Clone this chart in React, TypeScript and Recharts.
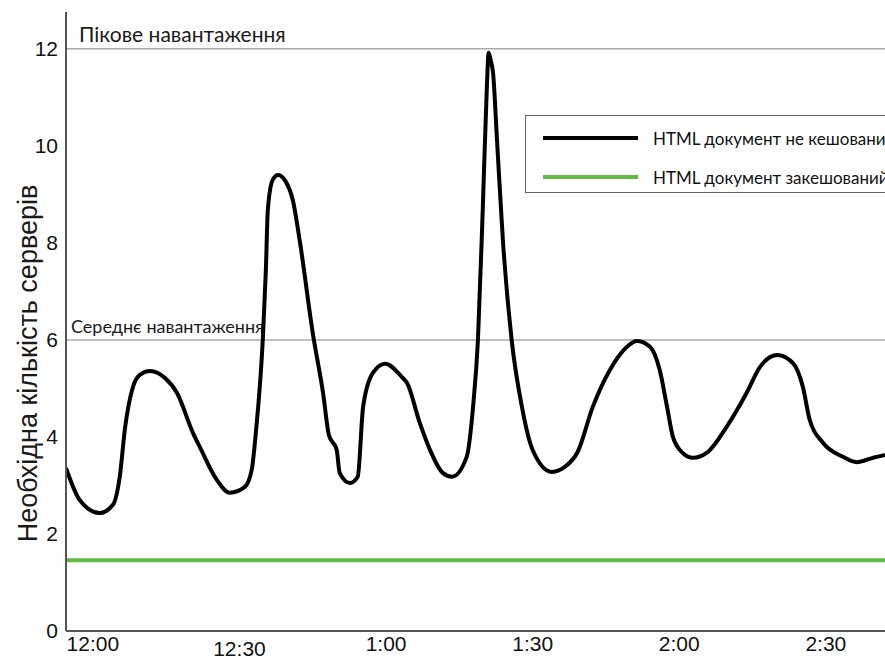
import React from 'react';
import { LineChart, Line, XAxis, YAxis, ReferenceLine, Legend } from 'recharts';

// minutes after 12:00 and servers needed (HTML not cached)
const minutes = [
  -5.5, -2.7, 1.4, 4.1, 5.5, 6.6, 8.2, 9.6, 11.7, 14.7, 17.2, 20.5, 21.9, 25.4, 28.0, 31.1, 32.5,
  33.4, 34.8, 35.4, 35.8, 36.8, 37.9, 39.5, 40.9, 42.4, 45.0, 47.1, 48.3, 49.9, 50.5, 52.6, 54.2,
  55.3, 57.3, 59.8, 63.2, 64.3, 66.9, 69.0, 71.6, 73.5, 76.5, 77.8, 78.8, 79.8, 80.6, 81.0, 81.4,
  81.9, 82.7, 83.9, 85.7, 87.8, 90.0, 93.9, 96.8, 99.2, 102.3, 105.8, 109.3, 111.3, 114.0, 116.0,
  117.5, 118.7, 120.7, 122.8, 125.6, 129.7, 133.8, 136.5, 140.0, 143.2, 145.3, 146.7, 149.4, 153.5,
  156.3, 159.6, 162.1,
];
const uncached = [
  3.36, 2.7, 2.43, 2.6, 3.18, 4.2, 5.03, 5.28, 5.36, 5.22, 4.91, 4.08, 3.79, 3.11, 2.85, 2.97, 3.32,
  4.14, 6.06, 7.44, 8.68, 9.3, 9.4, 9.26, 8.89, 8.0, 6.14, 4.91, 4.04, 3.73, 3.26, 3.05, 3.18,
  4.62, 5.32, 5.51, 5.24, 5.11, 4.29, 3.73, 3.26, 3.18, 3.59, 4.62, 6.0, 8.74, 11.15, 11.92, 11.77,
  11.5, 10.12, 8.06, 6.0, 4.62, 3.73, 3.28, 3.4, 3.69, 4.62, 5.38, 5.86, 5.98, 5.86, 5.38,
  4.62, 4.0, 3.67, 3.57, 3.67, 4.21, 4.91, 5.44, 5.69, 5.53, 5.03, 4.35, 3.88, 3.59,
  3.48, 3.57, 3.63,
];

// HTML cached
const cachedMinutes = [-5.5, 162.1];
const cached = [1.46, 1.46];

const xTicks = [0, 30, 60, 90, 120, 150];
const xLabels = ['12:00', '12:30', '1:00', '1:30', '2:00', '2:30'];
const yTicks = [0, 2, 4, 6, 8, 10, 12];
const seriesNames = ['HTML документ не кешований', 'HTML документ закешований'];

const uncachedData = minutes.map((m, i) => ({ m, v: uncached[i] }));
const cachedData = cachedMinutes.map((m, i) => ({ m, v: cached[i] }));

const axisFont = "'Liberation Sans', Arial, sans-serif";
const noteFont = "Lato, 'Open Sans', sans-serif";

const XTick = (props: any) => {
  const { x, y, payload, index } = props;
  return (
    <text x={x} y={y} dy={index === 1 ? 17 : 12} textAnchor="middle" fontFamily={axisFont} fontSize={21} fill="#111">
      {xLabels[xTicks.indexOf(payload.value)]}
    </text>
  );
};

const NoteLabel = (text: string, size: number, dx: number) => (props: any) => {
  const { viewBox } = props;
  return (
    <text x={viewBox.x + dx} y={viewBox.y - 7} fontFamily={noteFont} fontSize={size} fill="#1a1a1a">
      {text}
    </text>
  );
};

const YTitle = (props: any) => {
  const { viewBox } = props;
  const cx = viewBox.x + 28;
  const cy = viewBox.y + viewBox.height / 2 + 42;
  return (
    <text
      x={cx}
      y={cy}
      transform={`rotate(-90, ${cx}, ${cy})`}
      textAnchor="middle"
      dominantBaseline="central"
      fontFamily={axisFont}
      fontSize={27}
      fill="#1a1a1a"
    >
      Необхідна кількість серверів
    </text>
  );
};

const LegendBox = (props: any) => {
  const payload = [...(props.payload || [])].sort(
    (a: any, b: any) => seriesNames.indexOf(a.value) - seriesNames.indexOf(b.value)
  );
  return (
    <div
      style={{
        width: 360,
        height: 78,
        boxSizing: 'border-box',
        border: '1px solid #666',
        borderRight: 'none',
        background: '#fff',
        paddingTop: 8,
        fontFamily: noteFont,
        fontSize: 17,
        color: '#111',
        whiteSpace: 'nowrap',
        overflow: 'hidden',
      }}
    >
      {payload.map((p: any) => (
        <div key={p.value} style={{ display: 'flex', alignItems: 'center', height: 28, marginBottom: 11 }}>
          <span
            style={{
              display: 'inline-block',
              flexShrink: 0,
              width: 95,
              height: 4,
              background: p.color,
              marginLeft: 17,
              marginRight: 15,
            }}
          />
          <span style={{ flexShrink: 0 }}>{p.value}</span>
        </div>
      ))}
    </div>
  );
};

const App = () => {
  return (
    <div style={{ position: 'absolute', left: 0, top: 0, width: 885, height: 659, overflow: 'hidden', background: '#fff' }}>
      <LineChart width={885} height={659} margin={{ top: 12, right: 0, bottom: 0, left: 0 }}>
        <XAxis
          type="number"
          dataKey="m"
          domain={[-5.5, 162.1]}
          ticks={xTicks}
          tick={<XTick />}
          tickLine={false}
          axisLine={{ stroke: '#555', strokeWidth: 2 }}
          allowDataOverflow
          height={28}
        />
        <YAxis
          domain={[0, 12.76]}
          ticks={yTicks}
          width={66}
          tickLine={false}
          axisLine={{ stroke: '#555', strokeWidth: 2 }}
          tick={{ fontFamily: axisFont, fontSize: 21, fill: '#111' }}
          allowDataOverflow
          label={<YTitle />}
        />
        <ReferenceLine y={12} stroke="#aaa" strokeWidth={1.5} label={NoteLabel('Пікове навантаження', 21, 13)} />
        <ReferenceLine y={6} stroke="#aaa" strokeWidth={1.5} label={NoteLabel('Середнє навантаження', 18, 5)} />
        <Line
          data={uncachedData}
          dataKey="v"
          name={seriesNames[0]}
          type="monotone"
          stroke="#000"
          strokeWidth={4}
          dot={false}
          isAnimationActive={false}
        />
        <Line
          data={cachedData}
          dataKey="v"
          name={seriesNames[1]}
          type="linear"
          stroke="#62b946"
          strokeWidth={4}
          dot={false}
          isAnimationActive={false}
        />
        <Legend
          layout="vertical"
          align="center"
          verticalAlign="middle"
          content={<LegendBox />}
          wrapperStyle={{ left: 525, top: 115, width: 360 }}
        />
      </LineChart>
    </div>
  );
};

export default App;
